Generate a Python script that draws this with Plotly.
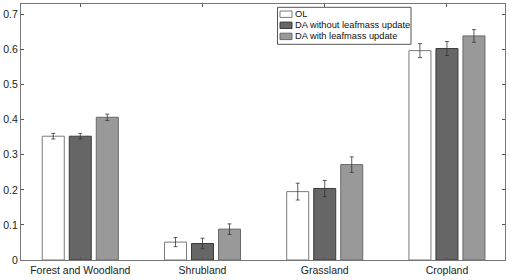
import plotly.graph_objects as go

categories = ["Forest and Woodland", "Shrubland", "Grassland", "Cropland"]
series_names = ["OL", "DA without leafmass update", "DA with leafmass update"]
ol_values = [0.353, 0.051, 0.195, 0.597]
ol_err = [0.008, 0.013, 0.024, 0.020]
da_no_values = [0.353, 0.047, 0.204, 0.603]
da_no_err = [0.008, 0.015, 0.023, 0.020]
da_leaf_values = [0.407, 0.088, 0.272, 0.639]
da_leaf_err = [0.009, 0.015, 0.022, 0.018]
y_ticks = [0, 0.1, 0.2, 0.3, 0.4, 0.5, 0.6, 0.7]

fills = ["#ffffff", "#666666", "#999999"]
edges = ["#7a7a7a", "#3a3a3a", "#6a6a6a"]

W, H = 510, 280
ML, MR, MT, MB = 21, 5, 4, 20
PW, PH = W - ML - MR, H - MT - MB


def px2x(px):
    return (px - ML) / PW


def px2y(py):
    return (H - MB - py) / PH


fig = go.Figure()
for name, vals, errs, fc, ec in zip(series_names,
                                    [ol_values, da_no_values, da_leaf_values],
                                    [ol_err, da_no_err, da_leaf_err],
                                    fills, edges):
    fig.add_trace(go.Bar(
        x=categories, y=vals, name=name,
        marker=dict(color=fc, line=dict(color=ec, width=1)),
        error_y=dict(type="data", array=errs, color="#333333", thickness=0.8, width=2),
        showlegend=False,
    ))

# Legend drawn as box + swatches + labels (compact, like the original)
shapes = [dict(type="rect", xref="paper", yref="paper",
               x0=px2x(277.5), x1=px2x(411), y0=px2y(44.3), y1=px2y(7.3),
               line=dict(color="#555555", width=1), fillcolor="white", layer="above")]
annotations = []
row_centers = [14.2, 25.3, 36.4]
for name, fc, ec, cy in zip(series_names, fills, edges, row_centers):
    shapes.append(dict(type="rect", xref="paper", yref="paper",
                       x0=px2x(280), x1=px2x(292), y0=px2y(cy + 3.2), y1=px2y(cy - 3.2),
                       line=dict(color=ec, width=1), fillcolor=fc, layer="above"))
    annotations.append(dict(xref="paper", yref="paper", x=px2x(293), y=px2y(cy),
                            xanchor="left", yanchor="middle", text=name, showarrow=False,
                            font=dict(size=9.3, color="#111111")))

fig.update_layout(
    width=W, height=H,
    margin=dict(l=ML, r=MR, t=MT, b=MB),
    paper_bgcolor="white", plot_bgcolor="white",
    barmode="group", bargap=0.337, bargroupgap=0.185,
    font=dict(family="Liberation Sans, Arial, sans-serif", size=10.5, color="#222222"),
    shapes=shapes, annotations=annotations,
)
fig.update_xaxes(
    type="category", range=[-0.485, 3.475],
    showline=True, linecolor="#777777", linewidth=1, mirror="ticks",
    ticks="inside", ticklen=3, tickcolor="#555555",
    showgrid=False, zeroline=False,
)
fig.update_yaxes(
    range=[0, 0.73], tickvals=y_ticks,
    showline=True, linecolor="#777777", linewidth=1, mirror="ticks",
    ticks="inside", ticklen=3, tickcolor="#555555",
    showgrid=False, zeroline=False,
)

fig.write_html("out.html", config={"displayModeBar": False},
               post_script="document.body.style.margin='0';document.body.style.overflow='hidden';")
